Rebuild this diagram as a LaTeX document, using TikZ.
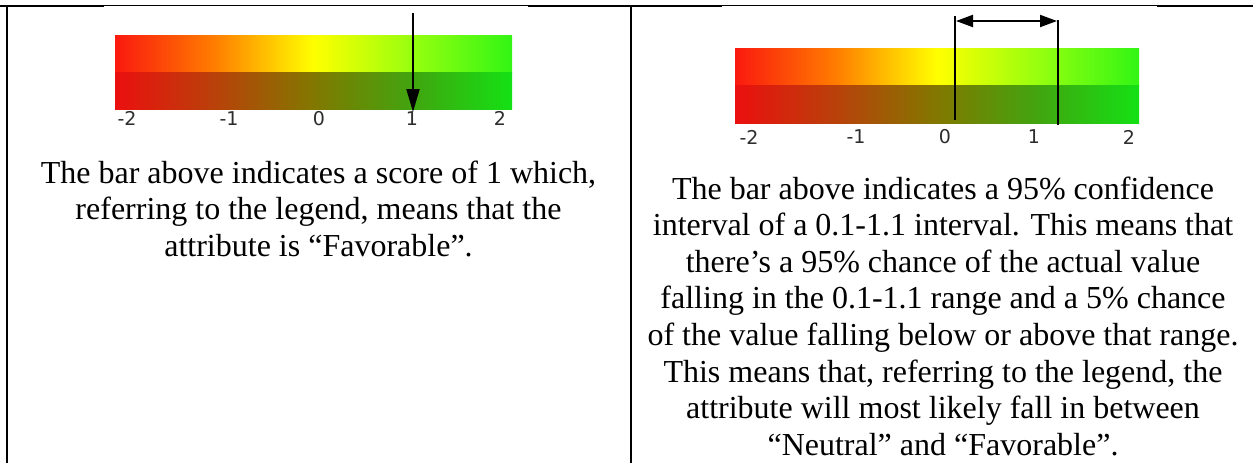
\documentclass[tikz,border=0pt]{standalone}
\usepackage{fontspec}
\setmainfont{Liberation Serif}
\newfontfamily\ticksfont{DejaVu Sans}
\usetikzlibrary{arrows.meta}
\definecolor{ua}{RGB}{250,25,15}
\definecolor{ub}{RGB}{255,125,0}
\definecolor{uc}{RGB}{255,255,0}
\definecolor{ud}{RGB}{150,255,15}
\definecolor{ue}{RGB}{50,245,20}
\definecolor{la}{RGB}{235,15,15}
\definecolor{lb}{RGB}{185,65,10}
\definecolor{lc}{RGB}{130,120,0}
\definecolor{ld}{RGB}{65,165,15}
\definecolor{le}{RGB}{20,225,20}
\definecolor{tickgray}{RGB}{45,45,45}
\pgfdeclarehorizontalshading{upperbar}{100bp}{color(0bp)=(ua); color(25bp)=(ua); color(37.5bp)=(ub); color(50bp)=(uc); color(62.5bp)=(ud); color(75bp)=(ue); color(100bp)=(ue)}
\pgfdeclarehorizontalshading{lowerbar}{100bp}{color(0bp)=(la); color(25bp)=(la); color(37.5bp)=(lb); color(50bp)=(lc); color(62.5bp)=(ld); color(75bp)=(le); color(100bp)=(le)}
\begin{document}
\begin{tikzpicture}[x=1pt,y=-1pt,
  txt/.style={anchor=base, inner sep=0pt, font=\fontsize{32}{36.6}\selectfont},
  tick/.style={inner sep=0pt, text=tickgray, font=\ticksfont\fontsize{19}{21}\selectfont},
  thickrule/.style={line width=2pt},
  thinrule/.style={line width=1pt},
  pointer/.style={line width=2pt, -{Triangle[length=23pt,width=13pt]}},
  span/.style={line width=2pt, {Triangle[length=17pt,width=12pt]}-{Triangle[length=17pt,width=12pt]}},
  marker/.style={line width=2pt}]
\useasboundingbox (0,0) rectangle (1253,463);
\fill[white] (0,0) rectangle (1253,463);
% table rules
\draw[thickrule] (0,6) -- (104,6);
\draw[thinrule] (104,5.5) -- (528,5.5);
\draw[thickrule] (528,6) -- (722,6);
\draw[thinrule] (722,5.5) -- (1157,5.5);
\draw[thickrule] (1157,6) -- (1253,6);
\draw[thickrule] (7,5) -- (7,463);
\draw[thickrule] (631,5) -- (631,463);
% left bar
\shade[shading=upperbar] (115,35) rectangle (512,72);
\shade[shading=lowerbar] (115,72) rectangle (512,109);
\node[tick] (la2) at (127,118.5) {-2};
\node[tick] (la1) at (229,118.5) {-1};
\node[tick] (l0) at (319,118.5) {0};
\node[tick] (lp1) at (412,118.5) {1};
\node[tick] (lp2) at (500,118.5) {2};
\coordinate (ptop) at (413,13);
\coordinate (ptip) at (413,112);
\draw[pointer] (ptop) -- (ptip);
% right bar
\shade[shading=upperbar] (735,48) rectangle (1139,85);
\shade[shading=lowerbar] (735,85) rectangle (1139,123);
\node[tick] (ra2) at (749,137) {-2};
\node[tick] (ra1) at (856,137) {-1};
\node[tick] (r0) at (945,137) {0};
\node[tick] (rp1) at (1034,137) {1};
\node[tick] (rp2) at (1129,137) {2};
\coordinate (m1t) at (955,16);
\coordinate (m1b) at (955,120);
\coordinate (m2t) at (1058,20);
\coordinate (m2b) at (1058,125);
\coordinate (sa) at (956,21);
\coordinate (sb) at (1057,21);
\draw[marker] (m1t) -- (m1b);
\draw[marker] (m2t) -- (m2b);
\draw[span] (sa) -- (sb);
% left text
\node[txt] (lt1) at (318.5,183) {The bar above indicates a score of 1 which,};
\node[txt] (lt2) at (318.5,219.6) {referring to the legend, means that the};
\node[txt] (lt3) at (318.5,256.2) {attribute is “Favorable”.};
% right text
\node[txt] (rt1) at (943,199) {The bar above indicates a 95\% confidence};
\node[txt] (rt2) at (943,235.6) {interval of a 0.1-1.1 interval. This means that};
\node[txt] (rt3) at (943,272.2) {there’s a 95\% chance of the actual value};
\node[txt] (rt4) at (943,308.8) {falling in the 0.1-1.1 range and a 5\% chance};
\node[txt] (rt5) at (943,345.4) {of the value falling below or above that range.};
\node[txt] (rt6) at (943,382) {This means that, referring to the legend, the};
\node[txt] (rt7) at (943,418.6) {attribute will most likely fall in between};
\node[txt] (rt8) at (943,455.2) {“Neutral” and “Favorable”.};
\end{tikzpicture}
\end{document}
